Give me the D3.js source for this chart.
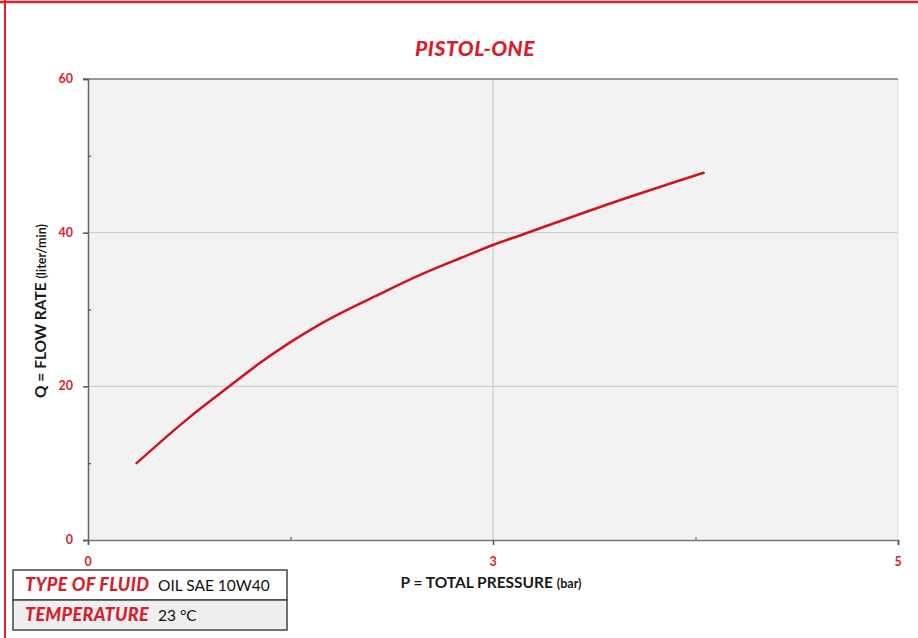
<!DOCTYPE html>
<html>
<head>
<meta charset="utf-8">
<script src="https://cdn.jsdelivr.net/npm/d3@7"></script>
<style>
  html, body { margin: 0; padding: 0; background: #fff; }
  svg { display: block; }
</style>
</head>
<body>
<svg id="chart" width="918" height="638"></svg>
<script>
// ---- data ----
const title = "PISTOL-ONE";
const pressure = [0.36, 0.74, 1.04, 1.27, 1.72, 2.16, 2.46, 2.76, 3.0, 3.15, 3.59, 4.04];
const flow     = [10.0, 15.8, 19.9, 23.0, 28.1, 32.0, 34.5, 36.7, 38.4, 39.8, 43.9, 47.8];
const xTickValues = [0, 3, 5];
const xMinorTicks = [1.5, 4];
const yTickValues = [0, 20, 40, 60];
const yMinorTicks = [10, 30, 50];
const xGrid = [3];
const yGrid = [20, 40];
const xAxisTitle = "P = TOTAL PRESSURE ";
const xAxisUnit = "(bar)";
const yAxisTitle = "Q = FLOW RATE ";
const yAxisUnit = "(liter/min)";
const infoLabels = ["TYPE OF FLUID", "TEMPERATURE"];
const infoValues = ["OIL SAE 10W40", "23 °C"];

// ---- layout ----
const svg = d3.select("#chart");
const red = "#d81e2c";
const lineRed = "#d0141f";
const font = "Lato, 'Open Sans', sans-serif";
const plot = { left: 88, right: 898, top: 79, bottom: 540 };

// frame (left + top red border)
svg.append("line").attr("x1", 5).attr("x2", 5).attr("y1", 0).attr("y2", 638)
  .attr("stroke", "#e3202e").attr("stroke-width", 2);
svg.append("line").attr("x1", 0).attr("x2", 918).attr("y1", 2).attr("y2", 2)
  .attr("stroke", "#e3202e").attr("stroke-width", 2.5);

const x = d3.scaleLinear().domain([0, 3, 5]).range([plot.left, (plot.left + plot.right) / 2, plot.right]);
const y = d3.scaleLinear().domain([0, 60]).range([plot.bottom, plot.top]);

// plot background
svg.append("rect")
  .attr("x", plot.left).attr("y", plot.top)
  .attr("width", plot.right - plot.left).attr("height", plot.bottom - plot.top)
  .attr("fill", "#f2f2f2");

// grid
svg.selectAll(".yg").data(yGrid).enter().append("line")
  .attr("x1", plot.left).attr("x2", plot.right)
  .attr("y1", d => y(d)).attr("y2", d => y(d))
  .attr("stroke", "#c8c8c8").attr("stroke-width", 1);
svg.selectAll(".xg").data(xGrid).enter().append("line")
  .attr("x1", d => x(d)).attr("x2", d => x(d))
  .attr("y1", plot.top).attr("y2", plot.bottom)
  .attr("stroke", "#c8c8c8").attr("stroke-width", 1);

// right border faint
svg.append("line").attr("x1", plot.right).attr("x2", plot.right)
  .attr("y1", plot.top).attr("y2", plot.bottom)
  .attr("stroke", "#e2e2e2").attr("stroke-width", 1);

// top line (at 60)
svg.append("line").attr("x1", plot.left - 5).attr("x2", plot.right)
  .attr("y1", y(60)).attr("y2", y(60))
  .attr("stroke", "#777").attr("stroke-width", 1.5);

// axes
const yAxis = d3.axisLeft(y).tickValues(yTickValues).tickSize(5).tickFormat("");
const gy = svg.append("g").attr("transform", `translate(${plot.left},0)`).call(yAxis);
gy.select(".domain").attr("stroke", "#666").attr("stroke-width", 1.5);
gy.selectAll(".tick line").attr("stroke", "#555").attr("stroke-width", 1.5);

const yMinor = d3.axisRight(y).tickValues(yMinorTicks).tickSize(3).tickFormat("");
const gym = svg.append("g").attr("transform", `translate(${plot.left},0)`).call(yMinor);
gym.select(".domain").remove();
gym.selectAll(".tick line").attr("stroke", "#555").attr("stroke-width", 1.2);

const xAxis = d3.axisBottom(x).tickValues(xTickValues).tickSize(5).tickFormat("");
const gx = svg.append("g").attr("transform", `translate(0,${plot.bottom})`).call(xAxis);
gx.select(".domain").attr("stroke", "#777").attr("stroke-width", 1.5);
gx.selectAll(".tick line").attr("stroke", "#555").attr("stroke-width", 1.5);

const xMinor = d3.axisTop(x).tickValues(xMinorTicks).tickSize(3).tickFormat("");
const gxm = svg.append("g").attr("transform", `translate(0,${plot.bottom})`).call(xMinor);
gxm.select(".domain").remove();
gxm.selectAll(".tick line").attr("stroke", "#666").attr("stroke-width", 1.2);

// tick labels
svg.selectAll(".ylab").data(yTickValues).enter().append("text")
  .attr("x", 73).attr("y", d => y(d) + 4)
  .attr("text-anchor", "end")
  .attr("font-family", font).attr("font-weight", 700).attr("font-size", 12.5)
  .attr("fill", red).text(d => d);
svg.selectAll(".xlab").data(xTickValues).enter().append("text")
  .attr("x", d => x(d)).attr("y", 566)
  .attr("text-anchor", "middle")
  .attr("font-family", font).attr("font-weight", 700).attr("font-size", 12.5)
  .attr("fill", red).text(d => d);

// axis titles
const xt = svg.append("text").attr("x", 491).attr("y", 588)
  .attr("text-anchor", "middle")
  .attr("font-family", font).attr("font-weight", 700).attr("font-size", 15.5)
  .attr("fill", "#1a1a1a");
xt.append("tspan").text(xAxisTitle);
xt.append("tspan").attr("font-size", 12.5).text(xAxisUnit);

const yt = svg.append("text")
  .attr("transform", "translate(46,311) rotate(-90)")
  .attr("text-anchor", "middle")
  .attr("font-family", font).attr("font-weight", 700).attr("font-size", 15.5)
  .attr("fill", "#1a1a1a");
yt.append("tspan").text(yAxisTitle);
yt.append("tspan").attr("font-size", 12.5).text(yAxisUnit);

// title
svg.append("text").attr("x", 475).attr("y", 56)
  .attr("text-anchor", "middle")
  .attr("font-family", font).attr("font-weight", 900).attr("font-style", "italic")
  .attr("font-size", 21).attr("letter-spacing", 0.5).attr("fill", red).text(title);

// curve
const line = d3.line()
  .x((d, i) => x(pressure[i]))
  .y((d, i) => y(flow[i]))
  .curve(d3.curveMonotoneX);
svg.append("path").datum(flow)
  .attr("d", line)
  .attr("fill", "none")
  .attr("stroke", lineRed).attr("stroke-width", 2.5)
  .attr("stroke-linecap", "round").attr("stroke-linejoin", "round");

// info table
const tbl = { x: 13, y: 570, w: 274, rowH: 30 };
infoLabels.forEach((lab, i) => {
  const ry = tbl.y + i * tbl.rowH;
  svg.append("rect").attr("x", tbl.x).attr("y", ry)
    .attr("width", tbl.w).attr("height", tbl.rowH)
    .attr("fill", i === 0 ? "#ffffff" : "#efefef")
    .attr("stroke", "#444").attr("stroke-width", 1.5);
  svg.append("text").attr("x", 25).attr("y", ry + 21)
    .attr("font-family", font).attr("font-weight", 900).attr("font-style", "italic")
    .attr("font-size", 18).attr("letter-spacing", 0.3).attr("fill", red).text(lab);
  svg.append("text").attr("x", 158).attr("y", ry + 21)
    .attr("font-family", font).attr("font-weight", 400)
    .attr("font-size", 15.5).attr("fill", "#111").text(infoValues[i]);
});
</script>
</body>
</html>
